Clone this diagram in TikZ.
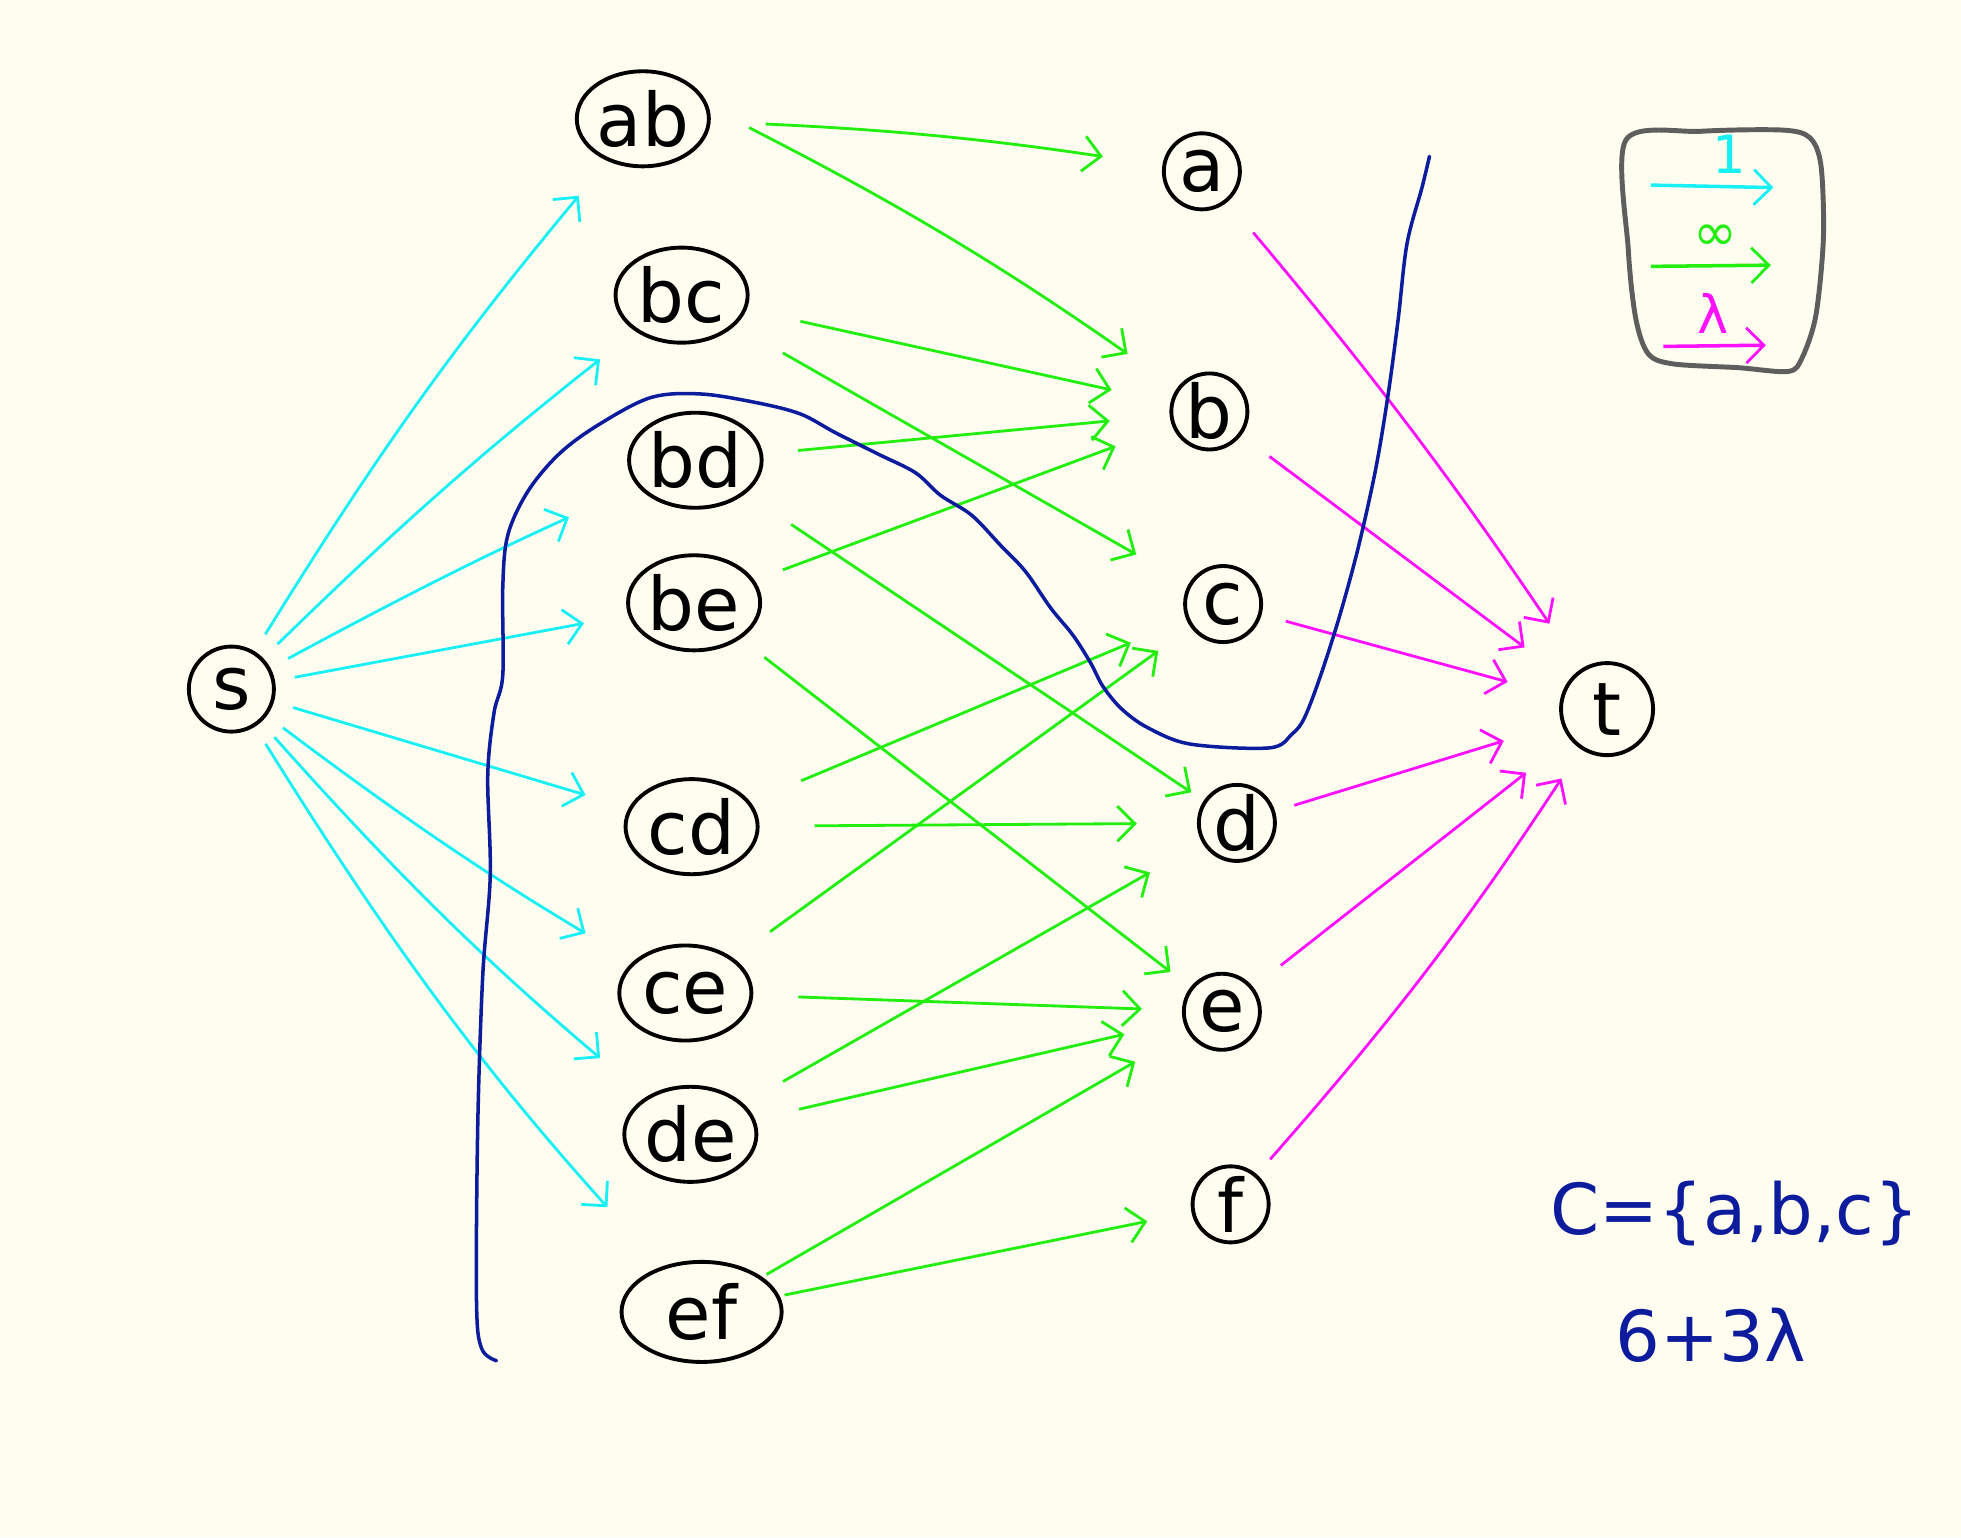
\documentclass[tikz,border=0pt]{standalone}
\usepackage{fontspec}
\setmainfont{DejaVu Sans}
\usetikzlibrary{arrows.meta,shapes.geometric}
\definecolor{paper}{HTML}{FEFDF0}
\definecolor{capone}{HTML}{19F0F5}
\definecolor{capinf}{HTML}{22EE10}
\definecolor{caplam}{HTML}{FF10FF}
\definecolor{cutblue}{HTML}{0C1C9C}
\definecolor{boxgray}{HTML}{5E5E5E}

\begin{document}
\begin{tikzpicture}[x=0.0125cm,y=-0.0125cm,
  every node/.style={font=\fontsize{21}{25}\selectfont},
  pair/.style={draw=black, line width=1.1pt, ellipse, minimum width=1.32cm, minimum height=0.95cm, inner sep=0pt},
  elem/.style={draw=black, line width=1.1pt, circle, minimum size=0.76cm, inner sep=0pt},
  tip/.style={-{Straight Barb[length=5pt,width=10pt,line width=0.8pt]}},
  one/.style={tip, draw=capone, line width=0.8pt, shorten <=0.2cm, shorten >=0.45cm},
  inf/.style={tip, draw=capinf, line width=0.8pt, shorten <=0.55cm, shorten >=0.6cm},
  lam/.style={tip, draw=caplam, line width=0.8pt, shorten <=0.35cm, shorten >=0.55cm},
  legtext/.style={font=\fontsize{15}{18}\selectfont},
  note/.style={text=cutblue, font=\fontsize{20}{24}\selectfont}
]
\fill[paper] (0,0) rectangle (1568,1229);
\useasboundingbox (0,0) rectangle (1568,1229);

% source and sink
\node[elem, minimum size=0.85cm] (s) at (185,551) {s};
\node[elem, minimum size=0.92cm] (t) at (1285,567) {t};

% pair nodes
\node[pair] (ab) at (514,95) {ab};
\node[pair] (bc) at (545,236) {bc};
\node[pair] (bd) at (556,368) {bd};
\node[pair] (be) at (555,482) {be};
\node[pair] (cd) at (553,661) {cd};
\node[pair] (ce) at (548,794) {ce};
\node[pair] (de) at (552,907) {de};
\node[pair, minimum width=1.6cm, minimum height=1.0cm] (ef) at (561,1049) {ef};

% element nodes
\node[elem] (a) at (961,137) {a};
\node[elem] (b) at (967,329) {b};
\node[elem] (c) at (978,483) {c};
\node[elem] (d) at (989,658) {d};
\node[elem] (e) at (977,809) {e};
\node[elem] (f) at (984,963) {f};

% capacity 1: s to every pair
\draw[one] (s) to[bend left=4] (ab);
\draw[one] (s) to[bend left=3] (bc);
\draw[one, shorten >=0.75cm] (s) to[bend left=2] (bd);
\draw[one] (s) to (be);
\draw[one] (s) to (cd);
\draw[one, shorten >=0.55cm] (s) to[bend right=3] (ce);
\draw[one, shorten >=0.6cm] (s) to[bend right=4] (de);
\draw[one, shorten >=0.8cm] (s) to[bend right=5] (ef);

% capacity infinity: pair to its elements
\draw[inf] (ab) to[bend left=3] (a);
\draw[inf, shorten <=0.45cm] (ab.10) to[bend left=4] (b);
\draw[inf] (bc) to (b);
\draw[inf] (bc) to (c);
\draw[inf, shorten <=0.35cm] (bd) to (b);
\draw[inf, shorten >=0.15cm] (bd) to (d);
\draw[inf, shorten <=0.3cm] (be) to (b);
\draw[inf, shorten <=0.3cm, shorten >=0.25cm] (be) to (e);
\draw[inf] (cd) to (c);
\draw[inf] (cd) to (d);
\draw[inf, shorten <=0.45cm, shorten >=0.4cm] (ce) to (c);
\draw[inf, shorten <=0.45cm, shorten >=0.4cm] (ce) to (e);
\draw[inf, shorten <=0.45cm] (de) to (d);
\draw[inf, shorten <=0.45cm] (de) to (e);
\draw[inf, shorten <=0.05cm] (ef) to (e);
\draw[inf, shorten <=0.05cm, shorten >=0.45cm] (ef) to (f);

% capacity lambda: elements to t
\draw[lam, shorten <=0.4cm] (a) to[bend left=3] (t);
\draw[lam] (b) to (t);
\draw[lam, shorten <=0.25cm] (c) to (t);
\draw[lam, shorten <=0.2cm, shorten >=0.6cm] (d) to (t);
\draw[lam] (e) to (t);
\draw[lam, shorten <=0.2cm, shorten >=0.35cm] (f) to[bend right=4] (t);

% the cut
\draw[cutblue, line width=1pt, line cap=round] plot[smooth, tension=0.55] coordinates {
  (397,1088) (385,1078) (381,1040) (382,900) (386,780) (392,700) (390,620)
  (395,570) (402,540) (402,470) (406,428) (422,393) (447,363) (478,340)
  (520,318) (560,315) (605,322) (640,331) (668,346) (702,363) (732,378)
  (752,396) (777,412) (800,436) (820,457) (840,486) (858,508) (872,530)
  (882,549) (897,567) (918,582) (952,595) (1015,598) (1033,587) (1043,574)
  (1056,540) (1071,493) (1086,438) (1100,375) (1110,315) (1118,255)
  (1125,195) (1137,150) (1143,125)};

% legend
\draw[boxgray, line width=1.4pt, line cap=round] plot[smooth cycle, tension=0.5] coordinates {
  (1300,112) (1302,200) (1308,255) (1318,283) (1338,291) (1390,294)
  (1430,297) (1441,286) (1452,252) (1458,190) (1456,132) (1447,110)
  (1425,104) (1360,105)};
\node[legtext, text=capone] (l1) at (1383,123) {1};
\coordinate (l1a) at (1320,148);
\coordinate (l1b) at (1418,150);
\draw[tip, capone, line width=1pt] (l1a) -- (l1b);
\node[legtext, text=capinf] (l2) at (1372,190) {∞};
\coordinate (l2a) at (1320,213);
\coordinate (l2b) at (1416,212);
\draw[tip, capinf, line width=1pt] (l2a) -- (l2b);
\node[legtext, text=caplam] (l3) at (1370,251) {λ};
\coordinate (l3a) at (1330,277);
\coordinate (l3b) at (1412,276);
\draw[tip, caplam, line width=1pt] (l3a) -- (l3b);

% the cut and its value
\node[note] (cut) at (1387,970) {C=\{a,b,c\}};
\node[note] (val) at (1368,1068) {6+3λ};
\end{tikzpicture}
\end{document}
